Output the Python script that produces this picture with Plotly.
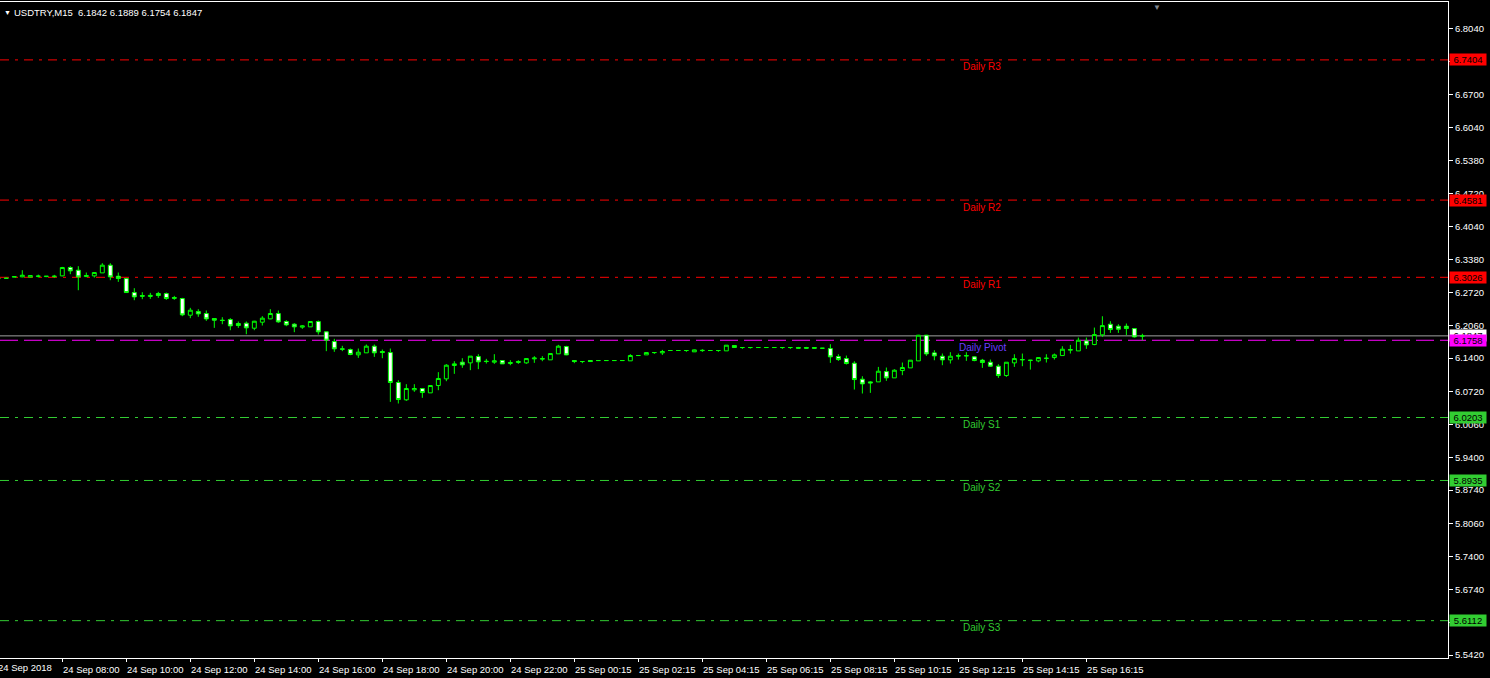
import plotly.graph_objects as go
import pandas as pd

# ---------------- data ----------------
symbol_title = "USDTRY,M15  6.1842 6.1889 6.1754 6.1847"

# bar times (M15) : 24 Sep 06:00 .. 23:45, then 25 Sep 00:15 .. 18:00
bar_times = list(pd.date_range("2018-09-24 06:00", "2018-09-24 23:45", freq="15min")) + \
            list(pd.date_range("2018-09-25 00:15", "2018-09-25 18:00", freq="15min"))

open_ = [6.3000, 6.3005, 6.3030, 6.3035, 6.3030, 6.3045, 6.3040, 6.3040, 6.3055, 6.3223,
         6.3169, 6.3041, 6.3055, 6.3115, 6.3270, 6.3048, 6.3001, 6.2719, 6.2659, 6.2640,
         6.2699, 6.2699, 6.2619, 6.2599, 6.2263, 6.2337, 6.2297, 6.2196, 6.2163, 6.2176,
         6.2095, 6.2102, 6.2001, 6.2122, 6.2189, 6.2297, 6.2136, 6.2082, 6.2022, 6.2028,
         6.2136, 6.1928, 6.1733, 6.1585, 6.1572, 6.1465, 6.1505, 6.1639, 6.1532, 6.1511,
         6.0908, 6.0559, 6.0760, 6.0787, 6.0699, 6.0847, 6.0981, 6.1250, 6.1317, 6.1303,
         6.1431, 6.1337, 6.1317, 6.1350, 6.1290, 6.1310, 6.1303, 6.1384, 6.1377, 6.1364,
         6.1485, 6.1632, 6.1350, 6.1330, 6.1350, 6.1350, 6.1350, 6.1350, 6.1350, 6.1344,
         6.1451, 6.1464, 6.1511, 6.1505, 6.1552, 6.1552, 6.1552, 6.1525, 6.1550, 6.1552,
         6.1552, 6.1545, 6.1652, 6.1612, 6.1612, 6.1612, 6.1612, 6.1612, 6.1612, 6.1612,
         6.1612, 6.1612, 6.1612, 6.1598, 6.1591, 6.1430, 6.1390, 6.1296, 6.0974, 6.0920,
         6.0920, 6.1128, 6.1001, 6.1148, 6.1202, 6.1343, 6.1860, 6.1504, 6.1437, 6.1363,
         6.1450, 6.1440, 6.1424, 6.1357, 6.1316, 6.1236, 6.1048, 6.1303, 6.1363, 6.1350,
         6.1343, 6.1390, 6.1410, 6.1450, 6.1558, 6.1544, 6.1746, 6.1672, 6.1867, 6.2081,
         6.2041, 6.2041, 6.1994, 6.1842]
high = [6.3008, 6.3012, 6.3045, 6.3169, 6.3068, 6.3080, 6.3052, 6.3075, 6.3236, 6.3250,
        6.3250, 6.3122, 6.3122, 6.3310, 6.3310, 6.3122, 6.3015, 6.2807, 6.2726, 6.2713,
        6.2733, 6.2719, 6.2652, 6.2612, 6.2411, 6.2384, 6.2357, 6.2203, 6.2223, 6.2203,
        6.2136, 6.2136, 6.2149, 6.2243, 6.2384, 6.2357, 6.2162, 6.2102, 6.2062, 6.2136,
        6.2156, 6.1934, 6.1787, 6.1646, 6.1592, 6.1592, 6.1673, 6.1673, 6.1572, 6.1592,
        6.0954, 6.0874, 6.0874, 6.0790, 6.0847, 6.1116, 6.1277, 6.1337, 6.1397, 6.1438,
        6.1478, 6.1384, 6.1478, 6.1357, 6.1357, 6.1357, 6.1397, 6.1438, 6.1438, 6.1491,
        6.1666, 6.1646, 6.1357, 6.1340, 6.1357, 6.1352, 6.1352, 6.1352, 6.1352, 6.1478,
        6.1453, 6.1511, 6.1513, 6.1565, 6.1554, 6.1554, 6.1554, 6.1572, 6.1578, 6.1554,
        6.1554, 6.1659, 6.1655, 6.1614, 6.1614, 6.1614, 6.1614, 6.1614, 6.1614, 6.1614,
        6.1625, 6.1625, 6.1614, 6.1600, 6.1679, 6.1477, 6.1450, 6.1336, 6.1034, 6.0934,
        6.1222, 6.1209, 6.1175, 6.1310, 6.1357, 6.1866, 6.1866, 6.1558, 6.1491, 6.1518,
        6.1491, 6.1518, 6.1437, 6.1383, 6.1370, 6.1276, 6.1316, 6.1477, 6.1491, 6.1363,
        6.1410, 6.1477, 6.1491, 6.1638, 6.1665, 6.1813, 6.1813, 6.2014, 6.2242, 6.2142,
        6.2081, 6.2095, 6.1994, 6.1889]
low = [6.2995, 6.3000, 6.3025, 6.3028, 6.3025, 6.3020, 6.3030, 6.3015, 6.3048, 6.3089,
       6.2766, 6.3028, 6.3021, 6.3115, 6.2968, 6.2934, 6.2713, 6.2565, 6.2585, 6.2592,
       6.2612, 6.2572, 6.2572, 6.2243, 6.2203, 6.2230, 6.2149, 6.2008, 6.2082, 6.1961,
       6.2008, 6.1880, 6.1961, 6.2055, 6.2182, 6.2109, 6.2042, 6.1921, 6.1988, 6.2028,
       6.1874, 6.1539, 6.1525, 6.1539, 6.1458, 6.1404, 6.1505, 6.1424, 6.1397, 6.0518,
       6.0485, 6.0538, 6.0720, 6.0599, 6.0699, 6.0753, 6.0934, 6.1082, 6.1203, 6.1156,
       6.1176, 6.1290, 6.1283, 6.1283, 6.1256, 6.1283, 6.1283, 6.1303, 6.1337, 6.1364,
       6.1485, 6.1457, 6.1297, 6.1297, 6.1330, 6.1348, 6.1348, 6.1348, 6.1348, 6.1344,
       6.1449, 6.1464, 6.1484, 6.1464, 6.1550, 6.1550, 6.1525, 6.1525, 6.1525, 6.1550,
       6.1525, 6.1545, 6.1612, 6.1585, 6.1592, 6.1610, 6.1610, 6.1610, 6.1585, 6.1585,
       6.1610, 6.1585, 6.1585, 6.1596, 6.1303, 6.1343, 6.1270, 6.0766, 6.0686, 6.0699,
       6.0920, 6.0941, 6.1001, 6.1055, 6.1202, 6.1343, 6.1444, 6.1356, 6.1256, 6.1290,
       6.1370, 6.1343, 6.1336, 6.1202, 6.1222, 6.1001, 6.1021, 6.1222, 6.1236, 6.1168,
       6.1316, 6.1310, 6.1370, 6.1450, 6.1491, 6.1544, 6.1585, 6.1659, 6.1826, 6.1907,
       6.1907, 6.1860, 6.1813, 6.1754]
close = [6.3002, 6.3008, 6.3040, 6.3068, 6.3062, 6.3050, 6.3048, 6.3048, 6.3223, 6.3156,
         6.3035, 6.3062, 6.3122, 6.3270, 6.3035, 6.3001, 6.2719, 6.2632, 6.2646, 6.2662,
         6.2659, 6.2599, 6.2605, 6.2270, 6.2364, 6.2290, 6.2189, 6.2163, 6.2156, 6.2048,
         6.2055, 6.2008, 6.2142, 6.2203, 6.2297, 6.2129, 6.2068, 6.2028, 6.2048, 6.2136,
         6.1928, 6.1760, 6.1585, 6.1578, 6.1471, 6.1518, 6.1639, 6.1505, 6.1511, 6.0908,
         6.0565, 6.0787, 6.0787, 6.0706, 6.0847, 6.0988, 6.1256, 6.1283, 6.1263, 6.1438,
         6.1324, 6.1330, 6.1344, 6.1283, 6.1310, 6.1330, 6.1390, 6.1400, 6.1390, 6.1491,
         6.1639, 6.1464, 6.1330, 6.1330, 6.1330, 6.1350, 6.1350, 6.1350, 6.1350, 6.1451,
         6.1451, 6.1511, 6.1511, 6.1532, 6.1552, 6.1552, 6.1552, 6.1565, 6.1555, 6.1552,
         6.1552, 6.1659, 6.1612, 6.1612, 6.1612, 6.1612, 6.1612, 6.1612, 6.1612, 6.1612,
         6.1600, 6.1600, 6.1598, 6.1598, 6.1424, 6.1370, 6.1290, 6.0967, 6.0880, 6.0900,
         6.1135, 6.1001, 6.1155, 6.1209, 6.1357, 6.1860, 6.1484, 6.1444, 6.1363, 6.1437,
         6.1440, 6.1450, 6.1350, 6.1310, 6.1236, 6.1048, 6.1316, 6.1390, 6.1370, 6.1357,
         6.1410, 6.1397, 6.1464, 6.1578, 6.1572, 6.1759, 6.1665, 6.1873, 6.2054, 6.1974,
         6.1981, 6.1994, 6.1826, 6.1847]

level_names = ["Daily R3", "Daily R2", "Daily R1", "Daily Pivot", "Daily S1", "Daily S2", "Daily S3"]
level_values = [6.7404, 6.4581, 6.3026, 6.1758, 6.0203, 5.8935, 5.6112]
level_colors = ["#ff0000", "#ff0000", "#ff0000", "#ff00ff", "#32cd32", "#32cd32", "#32cd32"]
level_text_colors = ["#ff0000", "#ff0000", "#ff0000", "#6b3cff", "#32cd32", "#32cd32", "#32cd32"]
level_dash = ["9px,6px,3px,6px"] * 3 + ["18px,6px"] + ["9px,6px,3px,6px"] * 3

bid_price = 6.1847

x_tick_labels = ["24 Sep 08:00", "24 Sep 10:00", "24 Sep 12:00", "24 Sep 14:00", "24 Sep 16:00",
                 "24 Sep 18:00", "24 Sep 20:00", "24 Sep 22:00", "25 Sep 00:15", "25 Sep 02:15",
                 "25 Sep 04:15", "25 Sep 06:15", "25 Sep 08:15", "25 Sep 10:15", "25 Sep 12:15",
                 "25 Sep 14:15", "25 Sep 16:15"]
first_date_label = "24 Sep 2018"

y_tick_values = [6.8040, 6.7370, 6.6700, 6.6040, 6.5380, 6.4720, 6.4040, 6.3380, 6.2720, 6.2060,
                 6.1400, 6.0720, 6.0060, 5.9400, 5.8740, 5.8060, 5.7400, 5.6740, 5.6080, 5.5420]

# ---------------- figure ----------------
FONT = "Liberation Sans"
idx = list(range(len(bar_times)))
time_labels = [t.strftime("%d %b %H:%M") for t in bar_times]
tickvals = [time_labels.index(lbl) for lbl in x_tick_labels]

fig = go.Figure()
fig.add_trace(go.Candlestick(
    x=idx, open=open_, high=high, low=low, close=close,
    increasing=dict(line=dict(color="#00ff00", width=1), fillcolor="#000000"),
    decreasing=dict(line=dict(color="#00ff00", width=1), fillcolor="#ffffff"),
    whiskerwidth=0, hoverinfo="skip", showlegend=False,
))

shapes = []
annotations = []
label_x = 123
for name, val, col, tcol, dash in zip(level_names, level_values, level_colors, level_text_colors, level_dash):
    shapes.append(dict(type="line", xref="paper", x0=0, x1=1, yref="y", y0=val, y1=val,
                       line=dict(color=col, width=1, dash=dash), layer="below"))
    annotations.append(dict(x=label_x, y=val, xref="x", yref="y", text=name, showarrow=False,
                            xanchor="center", yanchor="middle", yshift=-7,
                            font=dict(family=FONT, size=10, color=tcol)))

# bid line
shapes.append(dict(type="line", xref="paper", x0=0, x1=1, yref="y", y0=bid_price, y1=bid_price,
                   line=dict(color="#a0a0a0", width=1), layer="below"))

# right price boxes (bid first so pivot box lies over it)
box_items = [(bid_price, "#ffffff")] + list(zip(level_values, level_colors))
for val, col in box_items:
    annotations.append(dict(x=1, xref="paper", y=val, yref="y", text=f"{val:.4f}", showarrow=False,
                            xanchor="left", yanchor="middle", xshift=1, width=36, height=11,
                            bgcolor=col, borderpad=0,
                            font=dict(family=FONT, size=9.5, color="#000000")))

# title
annotations.append(dict(x=0, xref="paper", y=1, yref="paper", text="▼", showarrow=False,
                        xanchor="left", yanchor="top", xshift=2, yshift=-5,
                        font=dict(family=FONT, size=7, color="#ffffff")))
annotations.append(dict(x=0, xref="paper", y=1, yref="paper", text=symbol_title, showarrow=False,
                        xanchor="left", yanchor="top", xshift=12, yshift=-3,
                        font=dict(family=FONT, size=9.5, color="#ffffff")))
# shift marker
annotations.append(dict(x=1157 / 1448, xref="paper", y=1, yref="paper", text="▼", showarrow=False,
                        xanchor="center", yanchor="top", yshift=1,
                        font=dict(family=FONT, size=8, color="#808890")))
# left date label
annotations.append(dict(x=0, xref="paper", y=0, yref="paper", text=first_date_label, showarrow=False,
                        xanchor="left", yanchor="top", xshift=-4, yshift=-2,
                        font=dict(family=FONT, size=9.5, color="#ffffff")))

fig.update_layout(
    width=1490, height=678,
    paper_bgcolor="#000000", plot_bgcolor="#000000",
    margin=dict(l=0, r=42, t=2, b=20, autoexpand=False),
    shapes=shapes, annotations=annotations,
    showlegend=False,
    xaxis=dict(range=[0.2125, 181.2], showgrid=False, zeroline=False, rangeslider=dict(visible=False),
               tickvals=tickvals, ticktext=x_tick_labels, ticks="outside", ticklen=3, tickcolor="#ffffff",
               ticklabelshift=29, automargin=False,
               showline=True, linecolor="#ffffff", linewidth=1, mirror=True,
               tickfont=dict(family=FONT, size=9.5, color="#ffffff"), fixedrange=True),
    yaxis=dict(range=[5.536, 6.857], side="right", showgrid=False, zeroline=False, automargin=False,
               tickvals=y_tick_values, tickformat=".4f", ticks="outside", ticklen=4, tickcolor="#ffffff",
               showline=True, linecolor="#ffffff", linewidth=1,
               tickfont=dict(family=FONT, size=9.5, color="#ffffff"), fixedrange=True),
)

fig.write_html("out.html", config={"displayModeBar": False},
               post_script="document.body.style.margin='0px';document.body.style.background='#000000';"
                           "document.body.style.overflow='hidden';")
